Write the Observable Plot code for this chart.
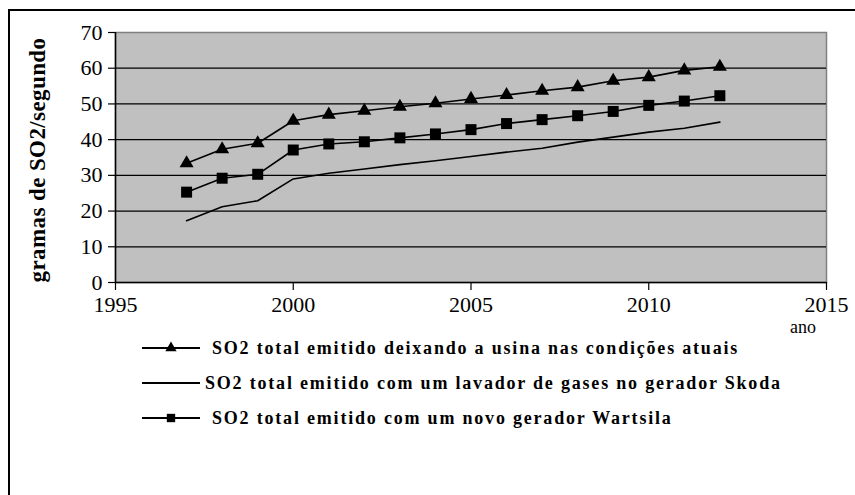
<!DOCTYPE html>
<html>
<head>
<meta charset="utf-8">
<script src="https://cdn.jsdelivr.net/npm/d3@7"></script>
<script src="https://cdn.jsdelivr.net/npm/@observablehq/plot@0.6"></script>
<style>
  html, body { margin: 0; padding: 0; background: #fff; }
  #wrap { position: relative; width: 855px; height: 495px; overflow: hidden; font-family: "Liberation Serif", "Times New Roman", serif; }
  #frame { position: absolute; left: 8px; top: 9px; width: 900px; height: 600px; border-top: 2px solid #000; border-left: 2px solid #000; }
  #chart { position: absolute; left: 0; top: 0; }
  #ylabel { position: absolute; left: 38px; top: 160px; transform: translate(-50%, -50%) rotate(-90deg); white-space: nowrap; font-weight: bold; font-size: 23px; letter-spacing: 0.4px; }
  #ano { position: absolute; left: 790px; top: 318px; font-size: 18px; line-height: 18px; }
  .leg { position: absolute; left: 140px; height: 24px; display: flex; align-items: center; white-space: nowrap; font-weight: bold; font-size: 18px; letter-spacing: 1.8px; font-family: "Liberation Serif", "Times New Roman", serif; }
  .leg svg { flex: none; }
</style>
</head>
<body>
<div id="wrap">
  <div id="frame"></div>
  <div id="chart"></div>
  <div id="ylabel"></div>
  <div id="ano"></div>
  <div id="legend"></div>
</div>
<script>
const years = [1997, 1998, 1999, 2000, 2001, 2002, 2003, 2004, 2005, 2006, 2007, 2008, 2009, 2010, 2011, 2012];
const atuais = [33.4, 37.3, 39.0, 45.3, 47.0, 48.1, 49.2, 50.2, 51.4, 52.5, 53.7, 54.7, 56.5, 57.5, 59.4, 60.4];
const skoda = [17.3, 21.2, 22.9, 29.0, 30.6, 31.8, 33.0, 34.1, 35.3, 36.5, 37.6, 39.3, 40.7, 42.1, 43.2, 44.9];
const wartsila = [25.3, 29.2, 30.3, 37.1, 38.8, 39.4, 40.5, 41.6, 42.8, 44.5, 45.6, 46.7, 47.9, 49.6, 50.8, 52.3];
const seriesNames = [
  "SO2 total emitido deixando a usina nas condições atuais",
  "SO2 total emitido com um lavador de gases no gerador Skoda",
  "SO2 total emitido com um novo gerador Wartsila"
];
const xTicks = [1995, 2000, 2005, 2010, 2015];
const yTicks = [0, 10, 20, 30, 40, 50, 60, 70];
const yLabel = "gramas de SO2/segundo";
const xLabel = "ano";

const rows = (vals) => years.map((y, i) => ({year: y, v: vals[i]}));
const dA = rows(atuais), dS = rows(skoda), dW = rows(wartsila);

const chart = Plot.plot({
  width: 855,
  height: 322,
  marginLeft: 115,
  marginRight: 29,
  marginTop: 32,
  marginBottom: 40,
  style: {background: "transparent", color: "#000", overflow: "visible", fontFamily: "Liberation Serif", fontSize: "22px"},
  x: {domain: [1995, 2015], ticks: xTicks, tickFormat: d => String(d), label: null},
  y: {domain: [0, 70], ticks: yTicks, label: null},
  marks: [
    Plot.frame({fill: "#c0c0c0", stroke: "#808080", strokeWidth: 1.5}),
    Plot.ruleY(yTicks.filter(t => t > 0 && t < 70), {stroke: "#000", strokeWidth: 1.2}),
    Plot.ruleY([0], {stroke: "#000", strokeWidth: 1.5}),
    Plot.ruleX([1995], {stroke: "#000", strokeWidth: 1.5}),
    Plot.axisY({ticks: yTicks, tickSize: 7, tickPadding: 6, stroke: "#000", fill: "#000", strokeWidth: 1.2, fontSize: 22}),
    Plot.axisX({ticks: xTicks, tickSize: 8, tickPadding: 6, stroke: "#000", fill: "#000", tickFormat: d => String(d), strokeWidth: 1.2, fontSize: 22}),
    Plot.line(dS, {x: "year", y: "v", stroke: "#000", strokeWidth: 1.6}),
    Plot.line(dW, {x: "year", y: "v", stroke: "#000", strokeWidth: 1.6}),
    Plot.line(dA, {x: "year", y: "v", stroke: "#000", strokeWidth: 1.6}),
    Plot.dot(dW, {x: "year", y: "v", symbol: "square", r: 6.2, fill: "#000", stroke: "none"}),
    Plot.dot(dA, {x: "year", y: "v", symbol: "triangle", r: 5.2, fill: "#000", stroke: "none"})
  ]
});
d3.select(chart).selectAll("text")
  .attr("font-size", 22).attr("font-family", "Liberation Serif")
  .style("font-size", "22px").style("font-family", "'Liberation Serif', serif");
document.getElementById("chart").appendChild(chart);
document.getElementById("ylabel").textContent = yLabel;
document.getElementById("ano").textContent = xLabel;

// Legend
const legendTops = [336, 371, 406];
const symbols = ["triangle", null, "square"];
const textGap = [10, 3, 10];
const leg = document.getElementById("legend");
seriesNames.forEach((name, i) => {
  const row = document.createElement("div");
  row.className = "leg";
  row.style.top = legendTops[i] + "px";
  const ns = "http://www.w3.org/2000/svg";
  const svg = document.createElementNS(ns, "svg");
  svg.setAttribute("width", 62); svg.setAttribute("height", 24);
  const ln = document.createElementNS(ns, "line");
  ln.setAttribute("x1", 2); ln.setAttribute("x2", 60); ln.setAttribute("y1", 12); ln.setAttribute("y2", 12);
  ln.setAttribute("stroke", "#000"); ln.setAttribute("stroke-width", 2);
  svg.appendChild(ln);
  if (symbols[i]) {
    const p = document.createElementNS(ns, "path");
    const sym = symbols[i] === "triangle" ? d3.symbolTriangle : d3.symbolSquare;
    const size = symbols[i] === "triangle" ? 55 : 70;
    p.setAttribute("d", d3.symbol(sym, size)());
    p.setAttribute("transform", "translate(31,12)");
    p.setAttribute("fill", "#000");
    svg.appendChild(p);
  }
  row.appendChild(svg);
  const t = document.createElement("span");
  t.style.marginLeft = textGap[i] + "px";
  t.textContent = name;
  row.appendChild(t);
  leg.appendChild(row);
});
</script>
</body>
</html>
